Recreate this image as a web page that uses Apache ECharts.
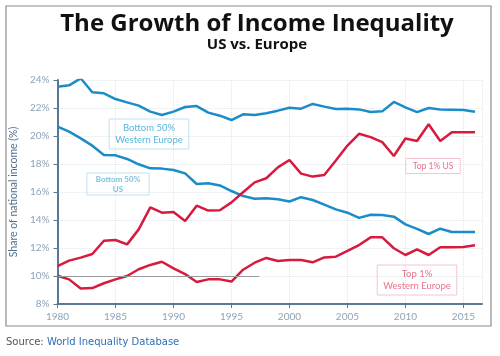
<!DOCTYPE html>
<html>
<head>
<meta charset="utf-8">
<script src="https://cdn.jsdelivr.net/npm/echarts@6/dist/echarts.min.js"></script>
<style>
  html, body { margin: 0; padding: 0; background: #fff; }
  #chart { width: 500px; height: 356px; }
</style>
</head>
<body>
<div id="chart"></div>
<script>
// years 1980..2016
const years = [];
for (let y = 1980; y <= 2016; y++) years.push(y);

const bottom50Europe = [23.52, 23.62, 24.12, 23.12, 23.05, 22.64, 22.40, 22.17, 21.74, 21.50,
    21.74, 22.07, 22.14, 21.67, 21.45, 21.14, 21.55, 21.50, 21.62, 21.81,
    22.02, 21.95, 22.29, 22.10, 21.93, 21.95, 21.90, 21.71, 21.76, 22.43,
    22.05, 21.71, 22.00, 21.90, 21.88, 21.86, 21.74];

const bottom50US = [20.67, 20.31, 19.83, 19.31, 18.64, 18.62, 18.36, 17.98, 17.69, 17.67,
    17.57, 17.33, 16.57, 16.62, 16.47, 16.07, 15.71, 15.52, 15.55, 15.48,
    15.32, 15.63, 15.43, 15.10, 14.76, 14.52, 14.15, 14.37, 14.36, 14.24,
    13.69, 13.36, 13.00, 13.38, 13.14, 13.14, 13.14];

const top1US = [10.71, 11.10, 11.31, 11.57, 12.52, 12.57, 12.26, 13.33, 14.90, 14.52,
    14.57, 13.93, 15.02, 14.67, 14.70, 15.26, 15.98, 16.69, 16.98, 17.76,
    18.29, 17.31, 17.10, 17.21, 18.25, 19.32, 20.16, 19.92, 19.56, 18.57,
    19.82, 19.64, 20.84, 19.64, 20.26, 20.26, 20.26];

const top1Europe = [10.02, 9.76, 9.10, 9.14, 9.48, 9.76, 10.00, 10.48, 10.79, 11.02,
    10.55, 10.14, 9.57, 9.76, 9.76, 9.60, 10.45, 10.95, 11.29, 11.07,
    11.14, 11.14, 10.98, 11.33, 11.38, 11.79, 12.21, 12.76, 12.76, 11.98,
    11.50, 11.90, 11.50, 12.05, 12.05, 12.07, 12.19];

// grey reference line at 10%
const refLine = [[1980, 10], [1997.4, 10]];

const yTicks = [8, 10, 12, 14, 16, 18, 20, 22, 24];

const BLUE = '#1b8cc8';
const RED = '#d81a3e';

function pairs(vals) {
    return vals.map((v, i) => [years[i], v]);
}

const option = {
    backgroundColor: '#fff',
    animation: false,
    grid: {
        left: 54,
        right: 18,
        top: 80,
        bottom: 52
    },
    xAxis: {
        type: 'value',
        min: 1980,
        max: 2016.6,
        interval: 5,
        axisLine: {
            lineStyle: { color: '#5a7891', width: 2 }
        },
        axisTick: {
            show: true,
            length: 4,
            lineStyle: { color: '#5a7891' }
        },
        axisLabel: {
            color: '#8ea3b5',
            fontFamily: 'Lato',
            fontSize: 10,
            margin: 8,
            showMaxLabel: false,
            formatter: v => String(v)
        },
        splitLine: {
            show: true,
            lineStyle: { color: '#e2e6ea', type: 'dotted' }
        }
    },
    yAxis: {
        type: 'value',
        min: yTicks[0],
        max: yTicks[yTicks.length - 1],
        interval: 2,
        name: 'Share of national income (%)',
        nameLocation: 'middle',
        nameGap: 35,
        nameTextStyle: {
            color: '#4f6f8c',
            fontFamily: 'Lato',
            fontSize: 10.5
        },
        axisLine: {
            show: true,
            lineStyle: { color: '#5a7891', width: 2 }
        },
        axisTick: {
            show: true,
            length: 4,
            lineStyle: { color: '#5a7891' }
        },
        axisLabel: {
            color: '#8ea3b5',
            fontFamily: 'Lato',
            fontSize: 10,
            margin: 8,
            formatter: v => v + '%'
        },
        splitLine: {
            show: true,
            lineStyle: { color: '#e2e6ea', type: 'dotted' }
        }
    },
    series: [
        {
            name: 'Bottom 50% Western Europe',
            type: 'line',
            data: pairs(bottom50Europe),
            showSymbol: false,
            lineStyle: { color: BLUE, width: 2.5 },
            z: 3
        },
        {
            name: 'Bottom 50% US',
            type: 'line',
            data: pairs(bottom50US),
            showSymbol: false,
            lineStyle: { color: BLUE, width: 2.5 },
            z: 3
        },
        {
            name: 'Top 1% US',
            type: 'line',
            data: pairs(top1US),
            showSymbol: false,
            lineStyle: { color: RED, width: 2.5 },
            z: 4
        },
        {
            name: 'Top 1% Western Europe',
            type: 'line',
            data: pairs(top1Europe),
            showSymbol: false,
            lineStyle: { color: RED, width: 2.5 },
            z: 4,
            markLine: {
                silent: true,
                symbol: 'none',
                label: { show: false },
                lineStyle: { color: '#9a9a9a', width: 1, type: 'solid' },
                data: [[{ coord: refLine[0] }, { coord: refLine[1] }]]
            }
        }
    ],
    graphic: [
        {
            type: 'rect',
            shape: { x: 6, y: 6, width: 485, height: 320 },
            style: { fill: 'none', stroke: '#8c8c8c', lineWidth: 1.2 },
            z: 0
        },
        {
            type: 'text',
            x: 257, y: 12,
            style: {
                text: 'The Growth of Income Inequality',
                fill: '#111',
                font: 'bold 24px "Open Sans"',
                align: 'center'
            }
        },
        {
            type: 'text',
            x: 257, y: 37,
            style: {
                text: 'US vs. Europe',
                fill: '#111',
                font: 'bold 15px "Open Sans"',
                align: 'center'
            }
        },
        {
            type: 'text',
            x: 149, y: 134,
            style: {
                text: 'Bottom 50%\nWestern Europe',
                fill: '#5ab5da',
                font: '9.5px Lato',
                lineHeight: 12,
                align: 'center',
                verticalAlign: 'middle',
                borderColor: '#bfe2f0',
                borderWidth: 1,
                padding: [3, 6]
            },
            z: 10
        },
        {
            type: 'text',
            x: 118, y: 184,
            style: {
                text: 'Bottom 50%\nUS',
                fill: '#7cc3df',
                font: 'bold 8px Lato',
                lineHeight: 10,
                align: 'center',
                verticalAlign: 'middle',
                borderColor: '#bfe2f0',
                borderWidth: 1,
                padding: [1, 9]
            },
            z: 10
        },
        {
            type: 'text',
            x: 433, y: 166,
            style: {
                text: 'Top 1% US',
                fill: '#e5748c',
                font: '8.5px Lato',
                align: 'center',
                verticalAlign: 'middle',
                borderColor: '#f3c6d0',
                borderWidth: 1,
                padding: [3, 7]
            },
            z: 10
        },
        {
            type: 'text',
            x: 417, y: 280,
            style: {
                text: 'Top 1%\nWestern Europe',
                fill: '#e5748c',
                font: '9.5px Lato',
                lineHeight: 12,
                align: 'center',
                verticalAlign: 'middle',
                borderColor: '#f3c6d0',
                borderWidth: 1,
                padding: [3, 6]
            },
            z: 10
        },
        {
            type: 'text',
            left: 6,
            top: 337,
            style: {
                text: '{a|Source: }{b|World Inequality Database}',
                rich: {
                    a: { fill: '#555', font: '10px "DejaVu Sans"' },
                    b: { fill: '#2f6eb5', font: '10px "DejaVu Sans"' }
                }
            }
        }
    ]
};

const chart = echarts.init(document.getElementById('chart'));
chart.setOption(option);
</script>
</body>
</html>
